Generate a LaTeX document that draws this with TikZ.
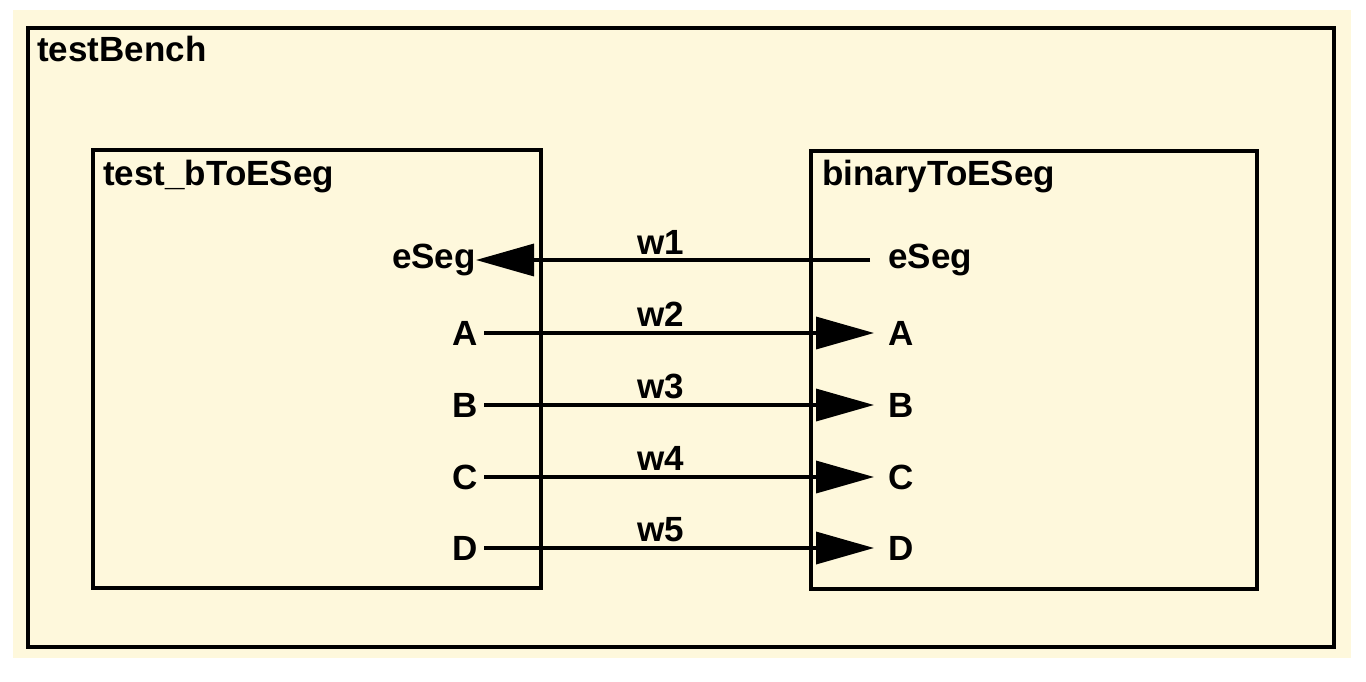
\documentclass[tikz,border=0pt]{standalone}
\usepackage{fontspec}
\setmainfont{Liberation Sans}
\usetikzlibrary{arrows.meta}
\definecolor{cream}{HTML}{FEF8DC}
\begin{document}
\begin{tikzpicture}[x=1pt,y=-1pt,
  box/.style={draw,line width=4pt},
  lbl/.style={font=\bfseries\fontsize{35}{40}\selectfont,inner sep=0pt},
  wire/.style={line width=3.5pt,-{Triangle[length=58pt,width=32pt]}}]
\useasboundingbox (0,0) rectangle (1366,681);
\fill[white] (0,0) rectangle (1366,681);
\fill[cream] (13,10) rectangle (1351,658);
\draw[box] (28,28) rectangle (1334,647);
\draw[box] (93,150) rectangle (541,588);
\draw[box] (811,151) rectangle (1257,589);
\node[lbl,anchor=north west] (tb) at (37,36) {testBench};
\node[lbl,anchor=north west] (tl) at (103,160) {test\_bToESeg};
\node[lbl,anchor=north west] (tr) at (822,160) {binaryToESeg};
\node[lbl,anchor=east] (le) at (476,260) {eSeg};
\node[lbl,anchor=west] (re) at (888,260) {eSeg};
\draw[wire] (re.west)++(-18,0) coordinate (rs) (rs) -- (le.east);
\node[lbl,anchor=south] (w1) at (661,255) {w1};
\foreach \n/\y/\w in {A/333/w2,B/405/w3,C/477/w4,D/548/w5}{
  \node[lbl,anchor=east] (l\n) at (478,\y) {\n};
  \node[lbl,anchor=west] (r\n) at (888,\y) {\n};
  \draw[wire] ([xshift=6pt]l\n.east) -- ([xshift=-14pt]r\n.west);
  \node[lbl,anchor=south] (\w) at (661,\y-6) {\w};
}
\end{tikzpicture}
\end{document}
